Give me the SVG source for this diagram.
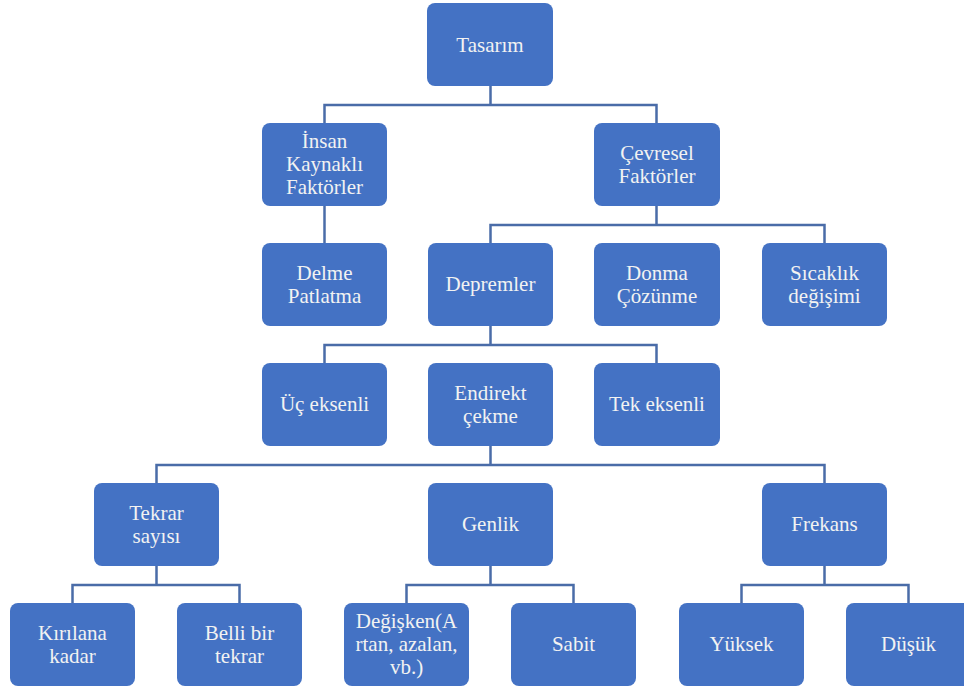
<svg xmlns="http://www.w3.org/2000/svg" width="964" height="693" viewBox="0 0 964 693">
<style>
.box{fill:#4472C4;}
.t{font-size:21px;fill:#F2F2F2;text-anchor:middle;}
.c{fill:none;stroke:#4A6CA8;stroke-width:2.5;}
</style>
<rect width="964" height="693" fill="#FFFFFF"/>
<g id="connectors" class="c">
<path d="M490.5 86V105M324.5 123V105H656.5V123"/>
<path d="M324.5 206V243"/>
<path d="M656.5 206V225M490.5 243V225H824.5V243"/>
<path d="M490.5 326V345M324.5 363V345H656.5V363"/>
<path d="M490.5 446V465M156.5 483V465H824.5V483"/>
<path d="M156.5 566V585M72.5 603V585H239.5V603"/>
<path d="M490.5 566V585M406.5 603V585H573.5V603"/>
<path d="M824.5 566V585M741.5 603V585H908.5V603"/>
</g>
<g font-family="Liberation Serif, Times New Roman, Tinos, Noto Serif, DejaVu Serif, serif">
<g id="tasarim"><rect class="box" x="427" y="3" width="126" height="83" rx="8"/><text class="t" x="490" y="52">Tasarım</text></g>
<g id="insan"><rect class="box" x="262" y="123" width="125" height="83" rx="8"/><text class="t" x="324.5" y="148">İnsan</text><text class="t" x="324.5" y="171">Kaynaklı</text><text class="t" x="324.5" y="194">Faktörler</text></g>
<g id="cevresel"><rect class="box" x="594" y="123" width="126" height="83" rx="8"/><text class="t" x="657" y="160">Çevresel</text><text class="t" x="657" y="183">Faktörler</text></g>
<g id="delme"><rect class="box" x="262" y="243" width="125" height="83" rx="8"/><text class="t" x="324.5" y="280">Delme</text><text class="t" x="324.5" y="303">Patlatma</text></g>
<g id="depremler"><rect class="box" x="428" y="243" width="125" height="83" rx="8"/><text class="t" x="490.5" y="291">Depremler</text></g>
<g id="donma"><rect class="box" x="594" y="243" width="126" height="83" rx="8"/><text class="t" x="657" y="280">Donma</text><text class="t" x="657" y="303">Çözünme</text></g>
<g id="sicaklik"><rect class="box" x="762" y="243" width="125" height="83" rx="8"/><text class="t" x="824.5" y="280">Sıcaklık</text><text class="t" x="824.5" y="303">değişimi</text></g>
<g id="uc"><rect class="box" x="262" y="363" width="125" height="83" rx="8"/><text class="t" x="324.5" y="411">Üç eksenli</text></g>
<g id="endirekt"><rect class="box" x="428" y="363" width="125" height="83" rx="8"/><text class="t" x="490.5" y="400">Endirekt</text><text class="t" x="490.5" y="423">çekme</text></g>
<g id="tek"><rect class="box" x="594" y="363" width="126" height="83" rx="8"/><text class="t" x="657" y="411">Tek eksenli</text></g>
<g id="tekrar"><rect class="box" x="94" y="483" width="125" height="83" rx="8"/><text class="t" x="156.5" y="520">Tekrar</text><text class="t" x="156.5" y="543">sayısı</text></g>
<g id="genlik"><rect class="box" x="428" y="483" width="125" height="83" rx="8"/><text class="t" x="490.5" y="531">Genlik</text></g>
<g id="frekans"><rect class="box" x="762" y="483" width="125" height="83" rx="8"/><text class="t" x="824.5" y="531">Frekans</text></g>
<g id="kirilana"><rect class="box" x="10" y="603" width="125" height="83" rx="8"/><text class="t" x="72.5" y="640">Kırılana</text><text class="t" x="72.5" y="663">kadar</text></g>
<g id="belli"><rect class="box" x="177" y="603" width="125" height="83" rx="8"/><text class="t" x="239.5" y="640">Belli bir</text><text class="t" x="239.5" y="663">tekrar</text></g>
<g id="degisken"><rect class="box" x="344" y="603" width="125" height="83" rx="8"/><text class="t" x="406.5" y="628">Değişken(A</text><text class="t" x="406.5" y="651">rtan, azalan,</text><text class="t" x="406.5" y="674">vb.)</text></g>
<g id="sabit"><rect class="box" x="511" y="603" width="125" height="83" rx="8"/><text class="t" x="573.5" y="651">Sabit</text></g>
<g id="yuksek"><rect class="box" x="679" y="603" width="125" height="83" rx="8"/><text class="t" x="741.5" y="651">Yüksek</text></g>
<g id="dusuk"><rect class="box" x="846" y="603" width="126" height="83" rx="8"/><text class="t" x="908.5" y="651">Düşük</text></g>
</g>
</svg>
